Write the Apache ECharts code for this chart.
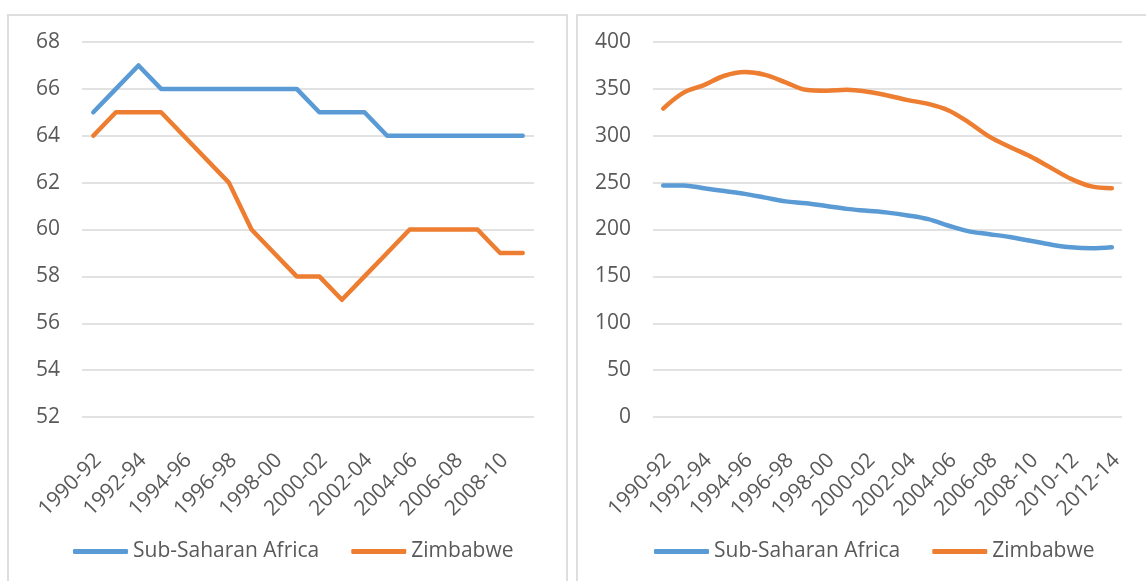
<!DOCTYPE html>
<html>
<head>
<meta charset="utf-8">
<script src="https://cdn.jsdelivr.net/npm/echarts@6/dist/echarts.min.js"></script>
<style>
  html, body { margin: 0; padding: 0; background: #fff; overflow: hidden; }
  .panel {
    position: absolute;
    top: 14px;
    height: 600px;
    border: 2px solid #dedede;
    box-sizing: border-box;
  }
  #left { left: 7px; width: 561px; }
  #right { left: 576px; width: 590px; }
  .chart { width: 100%; height: 100%; }
</style>
</head>
<body>
<div id="left" class="panel"><div id="leftChart" class="chart"></div></div>
<div id="right" class="panel"><div id="rightChart" class="chart"></div></div>

<script>
// 左图：年份段
const leftCategories = ['1990-92', '1991-93', '1992-94', '1993-95', '1994-96', '1995-97', '1996-98',
  '1997-99', '1998-00', '1999-01', '2000-02', '2001-03', '2002-04', '2003-05', '2004-06', '2005-07',
  '2006-08', '2007-09', '2008-10', '2009-11']
const leftAfrica = [65, 66, 67, 66, 66, 66, 66, 66, 66, 66, 65, 65, 65, 64, 64, 64, 64, 64, 64, 64]
const leftZimbabwe = [64, 65, 65, 65, 64, 63, 62, 60, 59, 58, 58, 57, 58, 59, 60, 60, 60, 60, 59, 59]
const leftTicks = { min: 52, max: 68, interval: 2 }

// 右图：年份段
const rightCategories = ['1990-92', '1991-93', '1992-94', '1993-95', '1994-96', '1995-97', '1996-98',
  '1997-99', '1998-00', '1999-01', '2000-02', '2001-03', '2002-04', '2003-05', '2004-06', '2005-07',
  '2006-08', '2007-09', '2008-10', '2009-11', '2010-12', '2011-13', '2012-14']
const rightAfrica = [247, 247, 244, 241, 238, 234, 230, 228, 225, 222, 220, 218, 215, 211, 204, 198,
  195, 192, 188, 184, 181, 180, 181]
const rightZimbabwe = [329, 346, 354, 364, 368, 365, 357, 349, 348, 349, 347, 343, 338, 334, 327, 314,
  299, 288, 278, 266, 254, 246, 244]
const rightTicks = { min: 0, max: 400, interval: 50 }

const seriesNames = ['Sub-Saharan Africa', 'Zimbabwe']
const colors = ['#5b9bd5', '#ed7d31']
const textColor = '#595959'
const font = '"Open Sans", "Noto Sans", sans-serif'

function makeOption(categories, africa, zimbabwe, ticks, gridLeft, gridWidth, legendLeft, smooth) {
  const line = (name, data, color) => ({
    name: name,
    type: 'line',
    data: data,
    smooth: smooth,
    symbol: 'none',
    color: color,
    lineStyle: { width: 4.5, color: color, cap: 'round', join: 'round' }
  })
  return {
    animation: false,
    textStyle: { fontFamily: font },
    grid: { left: gridLeft, top: 26, width: gridWidth, height: 375 },
    legend: {
      top: 520,
      left: legendLeft,
      icon: 'roundRect',
      itemWidth: 55,
      itemHeight: 5,
      itemGap: 32,
      textStyle: { color: textColor, fontSize: 21, fontFamily: font },
      data: seriesNames
    },
    xAxis: {
      type: 'category',
      data: categories,
      boundaryGap: true,
      axisLine: { show: false },
      axisTick: { show: false },
      axisLabel: {
        interval: 1,
        rotate: 45,
        margin: 24,
        // 斜排文字整体往右下挪一点
        verticalAlign: 'top',
        padding: [4, 8, 0, 0],
        color: textColor,
        fontSize: 21,
        fontFamily: font
      }
    },
    yAxis: {
      type: 'value',
      min: ticks.min,
      max: ticks.max,
      interval: ticks.interval,
      axisLine: { show: false },
      axisTick: { show: false },
      axisLabel: { margin: 22, color: textColor, fontSize: 21, fontFamily: font },
      // 网格线
      splitLine: { lineStyle: { color: '#d9d9d9', width: 1.5 } }
    },
    series: [
      line(seriesNames[0], africa, colors[0]),
      line(seriesNames[1], zimbabwe, colors[1])
    ]
  }
}

const leftChart = echarts.init(document.getElementById('leftChart'))
leftChart.setOption(makeOption(leftCategories, leftAfrica, leftZimbabwe, leftTicks, 73, 452, 59, false))

const rightChart = echarts.init(document.getElementById('rightChart'))
rightChart.setOption(makeOption(rightCategories, rightAfrica, rightZimbabwe, rightTicks, 75, 469, 71, 0.35))

window.addEventListener('resize', function() {
  leftChart.resize()
  rightChart.resize()
})
</script>
</body>
</html>
